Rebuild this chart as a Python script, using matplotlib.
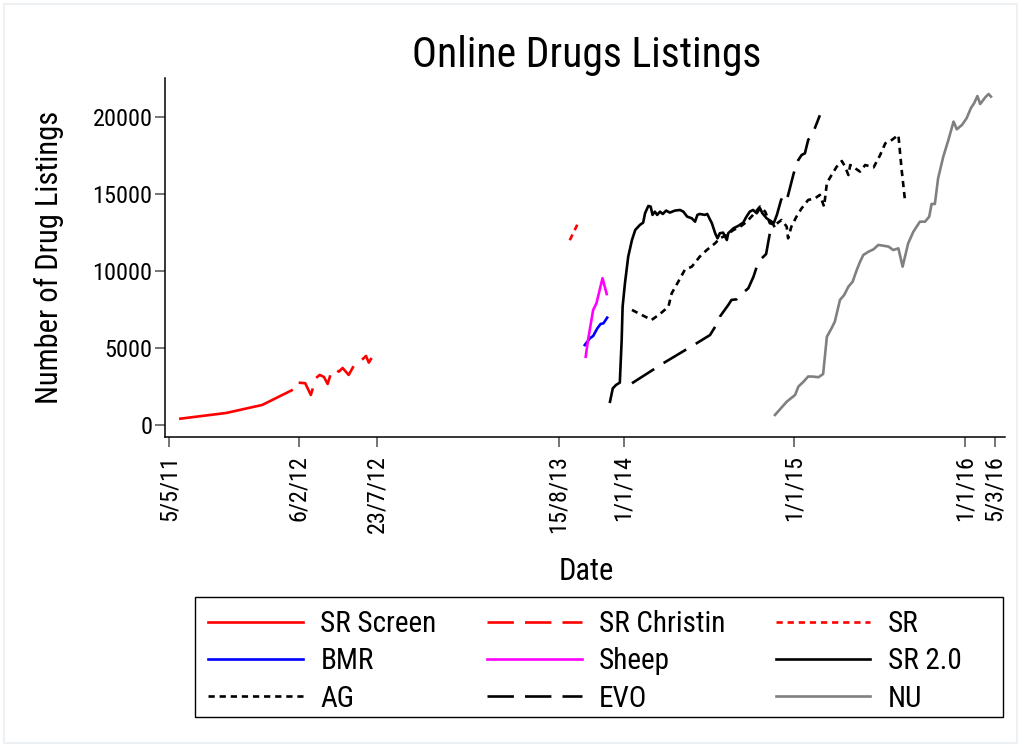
import pandas as pd
import matplotlib
matplotlib.use('Agg')
import matplotlib.pyplot as plt
from matplotlib import font_manager
from matplotlib.patches import Rectangle

# values
sr_screen_dates = ['2011-05-29', '2011-09-04', '2011-11-20', '2012-01-22']
sr_screen_vals = [410, 780, 1300, 2250]

sr_christin_dates = ['2012-02-06', '2012-02-20', '2012-03-03', '2012-03-14', '2012-03-22',
                     '2012-03-31', '2012-04-08', '2012-04-16', '2012-04-23', '2012-05-02',
                     '2012-05-10', '2012-05-23', '2012-06-05', '2012-06-16', '2012-06-29',
                     '2012-07-05', '2012-07-11']
sr_christin_vals = [2750, 2710, 1950, 3050, 3250, 3120, 2660, 3460, 3640, 3460,
                    3700, 3250, 3960, 4110, 4480, 4050, 4350]

sr_dates = ['2013-09-08', '2013-09-16', '2013-09-24']
sr_vals = [12000, 12500, 13000]

bmr_dates = ['2013-10-10', '2013-10-21', '2013-10-28', '2013-11-06', '2013-11-13',
             '2013-11-19', '2013-11-27']
bmr_vals = [5190, 5630, 5780, 6280, 6560, 6600, 6970]

sheep_dates = ['2013-10-12', '2013-10-17', '2013-10-28', '2013-11-04', '2013-11-17', '2013-11-26']
sheep_vals = [4430, 5520, 7470, 7900, 9530, 8500]

sr2_dates = ['2013-12-03', '2013-12-09', '2013-12-16', '2013-12-24', '2013-12-28', '2013-12-30',
             '2014-01-04', '2014-01-11', '2014-01-19', '2014-01-26', '2014-02-05', '2014-02-12',
             '2014-02-16', '2014-02-23', '2014-02-28', '2014-03-04', '2014-03-09', '2014-03-14',
             '2014-03-20', '2014-03-26', '2014-04-02', '2014-04-10', '2014-04-21', '2014-05-02',
             '2014-05-09', '2014-05-17', '2014-05-27', '2014-06-03', '2014-06-08', '2014-06-13',
             '2014-06-24', '2014-06-29', '2014-07-09', '2014-07-16', '2014-07-21', '2014-07-26',
             '2014-08-02', '2014-08-10', '2014-08-13', '2014-08-24', '2014-09-03', '2014-09-14',
             '2014-09-21', '2014-09-28', '2014-10-05', '2014-10-13', '2014-10-20', '2014-10-25',
             '2014-11-03', '2014-11-14', '2014-11-19']
sr2_vals = [1510, 2380, 2600, 2750, 5520, 7680, 9200, 10930, 12010, 12660, 12990, 13140,
            13750, 14220, 14180, 13640, 13850, 13640, 13850, 13700, 13920, 13790, 13920, 13960,
            13850, 13530, 13420, 13200, 13640, 13700, 13640, 13700, 13100, 12450, 12120, 12450,
            12490, 12010, 12450, 12770, 12920, 13140, 13530, 13850, 13960, 13750, 14070, 13750,
            13420, 13200, 12920]

ag_dates = ['2014-01-19', '2014-03-02', '2014-03-20', '2014-04-07', '2014-04-14', '2014-04-28',
            '2014-05-12', '2014-05-27', '2014-06-13', '2014-06-28', '2014-07-16', '2014-07-26',
            '2014-08-10', '2014-08-24', '2014-09-07', '2014-09-21', '2014-10-05', '2014-10-20',
            '2014-10-31', '2014-11-10', '2014-11-21', '2014-12-05', '2014-12-16', '2014-12-19',
            '2014-12-26', '2015-01-06', '2015-01-17', '2015-01-31', '2015-02-15', '2015-02-25',
            '2015-03-06', '2015-03-12', '2015-03-22', '2015-04-02', '2015-04-13', '2015-04-20',
            '2015-04-27', '2015-05-01', '2015-05-22', '2015-06-02', '2015-06-20', '2015-07-04',
            '2015-07-15', '2015-07-29', '2015-08-12', '2015-08-19', '2015-08-26']
ag_vals = [7470, 6820, 7210, 7680, 8550, 9300, 10070, 10280, 10930, 11360, 11800, 12120,
           12340, 12660, 12860, 13180, 13640, 14180, 13850, 13100, 12990, 13310, 12880, 12120,
           12880, 13530, 14070, 14610, 14720, 14940, 14180, 15710, 16230, 16770, 17140, 16770,
           16230, 16880, 16450, 16880, 16730, 17530, 18290, 18510, 18830, 16560, 14610]

evo_dates = ['2014-01-19', '2014-03-27', '2014-06-06', '2014-07-05', '2014-07-16', '2014-07-26',
             '2014-08-13', '2014-08-20', '2014-08-31', '2014-09-14', '2014-09-25', '2014-10-06',
             '2014-10-13', '2014-10-24', '2014-11-02', '2014-11-10', '2014-11-17', '2014-11-25',
             '2014-12-04', '2014-12-10', '2014-12-17', '2014-12-31', '2015-01-10', '2015-01-17',
             '2015-01-24', '2015-01-31', '2015-02-10', '2015-02-25']
evo_vals = [2710, 4010, 5300, 5840, 6380, 7030, 7790, 8120, 8160, 8590, 8880, 9630,
            10280, 10830, 11100, 12450, 12990, 13640, 14610, 14940, 14680, 16340, 17210, 17530,
            17640, 18510, 18940, 20110]

nu_dates = ['2014-11-21', '2014-12-16', '2015-01-03', '2015-01-10', '2015-01-21', '2015-01-31',
            '2015-02-11', '2015-02-22', '2015-03-04', '2015-03-12', '2015-03-22', '2015-03-29',
            '2015-04-09', '2015-04-18', '2015-04-27', '2015-05-06', '2015-05-15', '2015-05-22',
            '2015-05-29', '2015-06-09', '2015-06-20', '2015-06-30', '2015-07-11', '2015-07-22',
            '2015-08-01', '2015-08-12', '2015-08-21', '2015-09-02', '2015-09-13', '2015-09-27',
            '2015-10-08', '2015-10-17', '2015-10-22', '2015-10-29', '2015-11-05', '2015-11-16',
            '2015-11-27', '2015-12-08', '2015-12-15', '2015-12-26', '2016-01-05', '2016-01-14',
            '2016-01-21', '2016-01-28', '2016-02-03', '2016-02-14', '2016-02-21', '2016-02-26']
nu_vals = [650, 1510, 1950, 2490, 2810, 3150, 3140, 3100, 3310, 5730, 6280, 6710,
           8120, 8440, 8980, 9300, 10070, 10600, 11040, 11250, 11410, 11690, 11640, 11580,
           11360, 11470, 10280, 11800, 12550, 13200, 13200, 13530, 14350, 14350, 16020, 17420,
           18510, 19700, 19200, 19480, 19920, 20570, 20890, 21360, 20840, 21280, 21490, 21320]

tick_dates = ['2011-05-05', '2012-02-06', '2012-07-23', '2013-08-15', '2014-01-01',
              '2015-01-01', '2016-01-01', '2016-03-05']
tick_labels = ['5/5/11', '6/2/12', '23/7/12', '15/8/13', '1/1/14', '1/1/15', '1/1/16', '5/3/16']
y_ticks = [0, 5000, 10000, 15000, 20000]

names = {f.name for f in font_manager.fontManager.ttflist}
if 'Roboto Condensed' in names:
    fam, k = 'Roboto Condensed', 1.0
else:
    fam, k = 'Liberation Sans', 0.85
plt.rcParams['font.family'] = [fam, 'DejaVu Sans']
plt.rcParams['lines.scale_dashes'] = False

fig = plt.figure(figsize=(10.21, 7.47), dpi=100)
ax = fig.add_axes([0.1616, 0.415, 0.8227, 0.4806])
fig.patches.append(Rectangle((0.004, 0.006), 0.992, 0.988, transform=fig.transFigure,
                             fill=False, edgecolor='#edf1f4', lw=1.5))

lw = 1.9
long_dash = (0, (19, 8))
short_dash = (0, (4.5, 3.5))
series = [
    ('SR Screen', sr_screen_dates, sr_screen_vals, 'red', '-'),
    ('SR Christin', sr_christin_dates, sr_christin_vals, 'red', long_dash),
    ('SR', sr_dates, sr_vals, 'red', short_dash),
    ('BMR', bmr_dates, bmr_vals, 'blue', '-'),
    ('Sheep', sheep_dates, sheep_vals, 'magenta', '-'),
    ('SR 2.0', sr2_dates, sr2_vals, 'black', '-'),
    ('AG', ag_dates, ag_vals, 'black', short_dash),
    ('EVO', evo_dates, evo_vals, 'black', long_dash),
    ('NU', nu_dates, nu_vals, 'gray', '-'),
]
handles = []
for name, d, v, c, ls in series:
    h, = ax.plot(pd.to_datetime(d), v, color=c, linestyle=ls, lw=lw, label=name)
    handles.append(h)

ax.set_xlim(pd.Timestamp('2011-04-26'), pd.Timestamp('2016-03-27'))
ax.set_ylim(-780, 22530)
ax.set_xticks(pd.to_datetime(tick_dates))
ax.set_xticklabels(tick_labels, rotation=90, fontsize=17.5 * k)
ax.set_yticks(y_ticks)
ax.set_yticklabels([str(t) for t in y_ticks], fontsize=17.5 * k)
ax.tick_params(axis='x', direction='out', length=7, width=1.1, color='#505050', pad=6)
ax.tick_params(axis='y', direction='out', length=7, width=1.1, color='#505050', pad=2)
for s in ['top', 'right']:
    ax.spines[s].set_visible(False)
for s in ['left', 'bottom']:
    ax.spines[s].set_linewidth(1.1)
    ax.spines[s].set_color('black')

ax.set_ylabel('Number of Drug Listings', fontsize=22 * k)
ax.yaxis.set_label_coords(-0.12, 0.5)
ax.set_xlabel('Date', fontsize=22 * k)
ax.xaxis.set_label_coords(0.501, -0.335)
fig.text(0.5745, 1 - 55 / 747, 'Online Drugs Listings', ha='center', va='center', fontsize=30 * k)

# legend in Stata row order, frame drawn separately
order = [0, 3, 6, 1, 4, 7, 2, 5, 8]
leg_fs = 21 * k
leg = fig.legend([handles[i] for i in order], [series[i][0] for i in order], ncol=3,
                 loc='upper left', bbox_to_anchor=(208 / 1021, 1 - 610 / 747),
                 bbox_transform=fig.transFigure, fontsize=leg_fs, frameon=False,
                 handlelength=3.25, handletextpad=0.6, columnspacing=1.72,
                 labelspacing=0.32, borderaxespad=0, borderpad=0)
fig.patches.append(Rectangle((195 / 1021, 1 - 717 / 747), 808 / 1021, 120 / 747,
                             transform=fig.transFigure, fill=False, edgecolor='black', lw=1.0))

fig.savefig('out.png', dpi=100)
